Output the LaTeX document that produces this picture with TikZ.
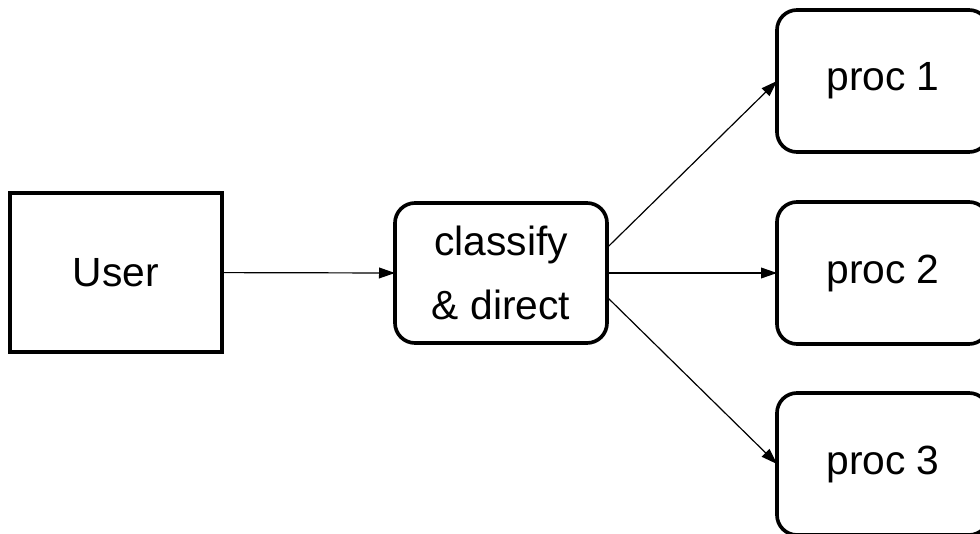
\documentclass[tikz,border=0pt]{standalone}
\usepackage{fontspec}
\setmainfont{Liberation Sans}
\usetikzlibrary{arrows.meta, positioning}

\tikzset{
    userbox/.style={draw, line width=2.6pt, minimum width=5.3cm, minimum height=3.975cm,
        inner sep=0pt, outer sep=0pt, align=center, font=\fontsize{29}{45}\selectfont},
    procbox/.style={userbox, rounded corners=0.5cm, minimum height=3.55cm},
    flow/.style={line width=0.85pt, -{Triangle[length=0.4cm, width=0.27cm]}}
}

\begin{document}
\begin{tikzpicture}
        \useasboundingbox (0,0) rectangle (24.5,13.325);

        % Add the boxes
        \node[userbox] (user) at (2.9,6.51) {User};
        \node[procbox, minimum height=3.5cm] (classify) at (12.525,6.5) {classify\\\& direct};
        \node[procbox] (proc1) at (22.075,11.3) {proc 1};
        \node[procbox] (proc2) at (22.075,6.5) {proc 2};
        \node[procbox] (proc3) at (22.075,1.725) {proc 3};

        % Draw the arrows
        \draw[flow] (user.east) -- (classify.west);
        \draw[flow] ([yshift=0.63cm]classify.east) -- (proc1.west);
        \draw[flow] (classify.east) -- (proc2.west);
        \draw[flow] ([yshift=-0.6cm]classify.east) -- (proc3.west);
    \end{tikzpicture}
\end{document}
